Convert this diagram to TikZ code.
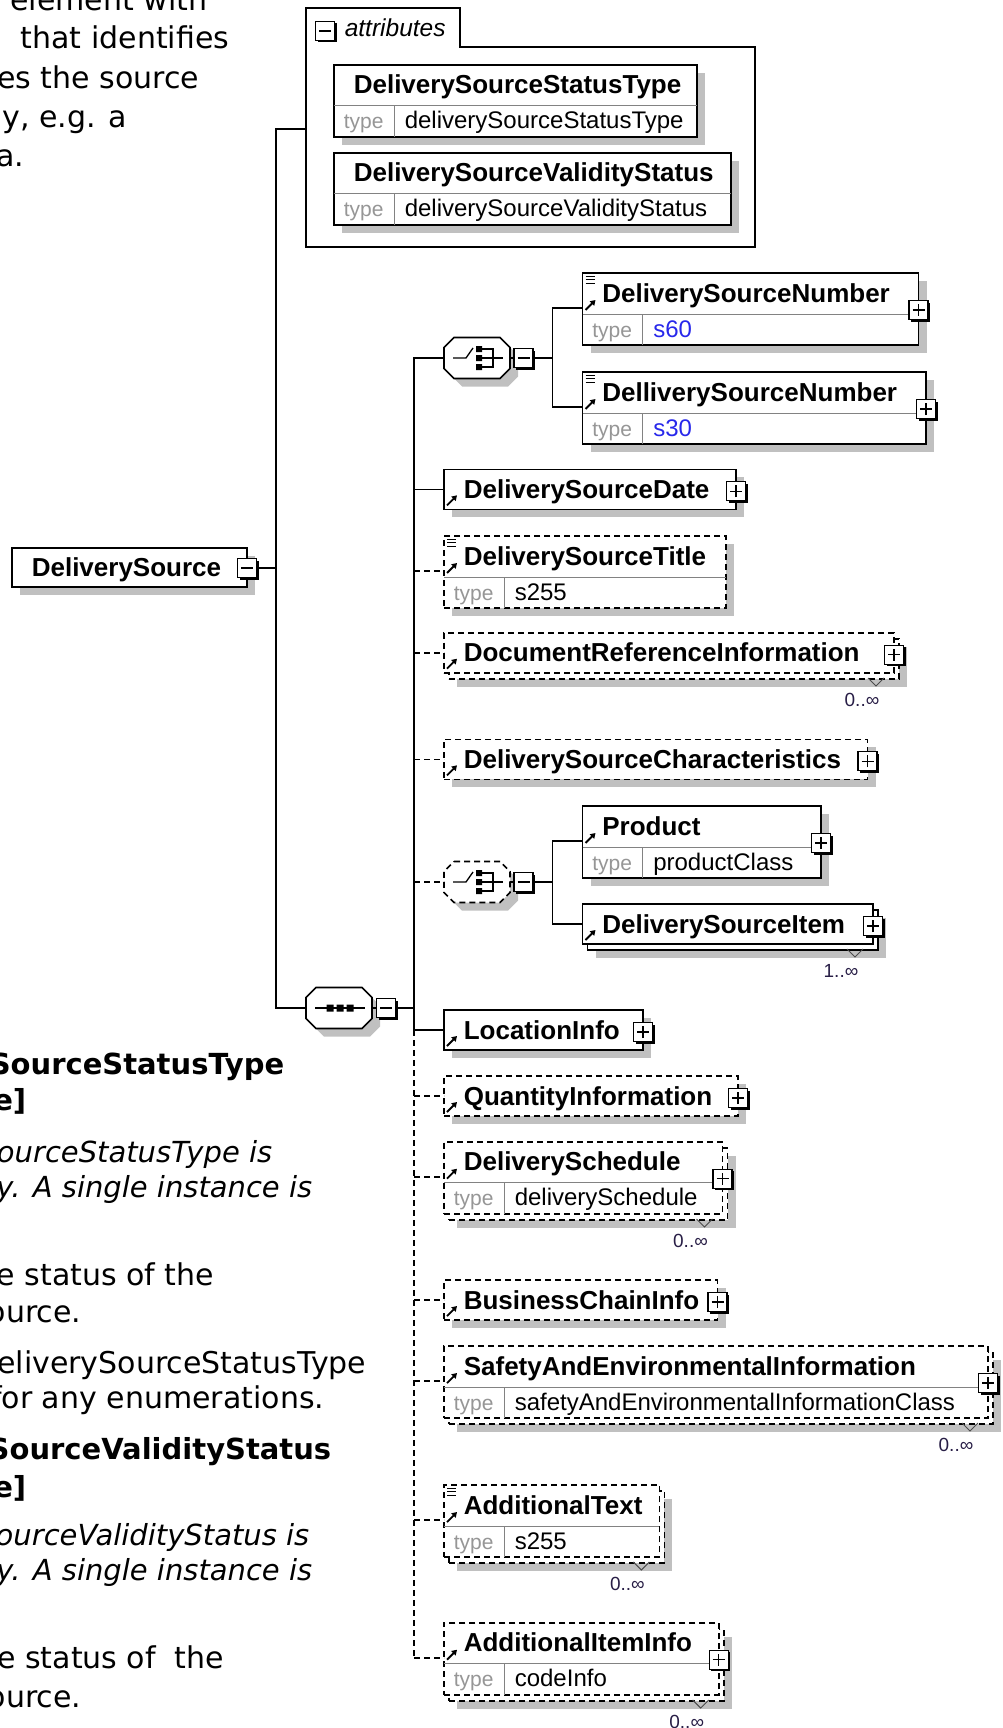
\documentclass[tikz,border=0pt]{standalone}
\usepackage{fontspec}
\setmainfont{Liberation Sans}
\newfontfamily\docfont{DejaVu Sans}
\usepackage{tikz}
\usetikzlibrary{arrows.meta,positioning,shadows,calc}

\definecolor{shadowgray}{RGB}{192,192,192}
\definecolor{typegray}{RGB}{150,150,150}
\definecolor{linegray}{RGB}{130,130,130}
\definecolor{valblue}{RGB}{40,40,235}
\definecolor{cardtext}{RGB}{40,30,70}

\newcommand{\elbox}[5][elem]{%
  \node[#1,minimum width=#4pt,minimum height=40pt,anchor=north west] (#2) at (#3) {};
  \node[ename,anchor=base west] (#2-t) at ([xshift=19pt,yshift=-29pt]#2.north west) {#5};
  \coordinate (#2-in) at (#2.west);}
\newcommand{\tybox}[6][elem]{%
  \node[#1,minimum width=#4pt,minimum height=72pt,anchor=north west] (#2) at (#3) {};
  \draw[divline] ([yshift=-41pt]#2.north west) -- ([yshift=-41pt]#2.north east)
    ([xshift=60pt,yshift=-41pt]#2.north west) -- ([xshift=60pt]#2.south west);
  \node[ename,anchor=base west] (#2-t) at ([xshift=19pt,yshift=-29pt]#2.north west) {#5};
  \node[tlabel,anchor=base west] (#2-l) at ([xshift=9pt,yshift=8pt]#2.south west) {type};
  \node[tval,anchor=base west] (#2-v) at ([xshift=70pt,yshift=8pt]#2.south west) {#6};
  \coordinate (#2-in) at ([yshift=-35pt]#2.north west);}
\newcommand{\octa}[2][]{%
  \filldraw[fill=white,shad,#1] ([xshift=10pt]#2.north west) -- ([xshift=-10pt]#2.north east)
    -- ([yshift=-10pt]#2.north east) -- ([yshift=10pt]#2.south east) -- ([xshift=-10pt]#2.south east)
    -- ([xshift=10pt]#2.south west) -- ([yshift=10pt]#2.south west) -- ([yshift=-10pt]#2.north west) -- cycle;}
\newcommand{\choicesym}[1]{%
  \draw[line width=1.3pt] ([xshift=-24pt]#1.center) -- ([xshift=-11pt]#1.center) -- ([xshift=-4pt,yshift=10pt]#1.center);
  \draw[line width=1.3pt] ([xshift=5pt,yshift=9pt]#1.center) -- ([xshift=16pt,yshift=9pt]#1.center) -- ([xshift=16pt,yshift=-9pt]#1.center) -- ([xshift=5pt,yshift=-9pt]#1.center)
    ([xshift=5pt]#1.center) -- ([xshift=26pt]#1.center);
  \fill ([xshift=-1pt,yshift=12pt]#1.center) rectangle ([xshift=5pt,yshift=6pt]#1.center)
    ([xshift=-1pt,yshift=3pt]#1.center) rectangle ([xshift=5pt,yshift=-3pt]#1.center)
    ([xshift=-1pt,yshift=-6pt]#1.center) rectangle ([xshift=5pt,yshift=-12pt]#1.center);}
\newcommand{\seqsym}[1]{%
  \draw[line width=1.3pt] ([xshift=-24pt]#1.center) -- ([xshift=26pt]#1.center);
  \fill ([xshift=-12.5pt,yshift=3.5pt]#1.center) rectangle ([xshift=-5.5pt,yshift=-3.5pt]#1.center)
    ([xshift=-2.5pt,yshift=3.5pt]#1.center) rectangle ([xshift=4.5pt,yshift=-3.5pt]#1.center)
    ([xshift=7.5pt,yshift=3.5pt]#1.center) rectangle ([xshift=14.5pt,yshift=-3.5pt]#1.center);}

\begin{document}
\begin{tikzpicture}[x=1pt,y=-1pt,line width=1.6pt,
  box/.style={draw,fill=white,outer sep=0pt,inner sep=0pt},
  shad/.style={drop shadow={shadow xshift=8pt,shadow yshift=-8pt,fill=shadowgray,opacity=1}},
  elem/.style={box,shad},
  opt/.style={dash pattern=on 6pt off 4pt},
  ename/.style={font=\fontsize{26}{30}\selectfont\bfseries,inner sep=0pt},
  tlabel/.style={font=\fontsize{21}{24}\selectfont,text=typegray,inner sep=0pt},
  tval/.style={font=\fontsize{24}{28}\selectfont,inner sep=0pt},
  atitle/.style={font=\fontsize{24.5}{28}\selectfont\itshape,anchor=base west,inner sep=0pt},
  divline/.style={draw=linegray,line width=1pt},
  refarrow/.style={-{Triangle[length=5pt,width=6pt]},line width=1.8pt},
  pmb/.style={draw,fill=white,line width=1.3pt,minimum size=19pt,inner sep=0pt,outer sep=0pt,
    drop shadow={shadow xshift=2pt,shadow yshift=-2pt,fill=black,opacity=1}},
  pbox/.style={pmb,path picture={\draw[line width=1.3pt]
    ([xshift=-6pt]path picture bounding box.center) -- ([xshift=6pt]path picture bounding box.center)
    ([yshift=-6pt]path picture bounding box.center) -- ([yshift=6pt]path picture bounding box.center);}},
  mbox/.style={pmb,path picture={\draw[line width=1.3pt]
    ([xshift=-6pt]path picture bounding box.center) -- ([xshift=6pt]path picture bounding box.center);}},
  comp/.style={minimum width=66pt,minimum height=41pt,inner sep=0pt,outer sep=0pt},
  card/.style={font=\fontsize{19}{22}\selectfont,text=cardtext,inner sep=0pt,anchor=base},
  cardv/.style={line width=1pt,draw=black!70},
  doc/.style={font=\docfont\fontsize{30}{36}\selectfont,inner sep=0pt,anchor=base east},
  docb/.style={doc,font=\docfont\fontsize{29}{36}\selectfont\bfseries},
  doci/.style={doc,font=\docfont\fontsize{29}{36}\selectfont\itshape}]
\useasboundingbox (0,0) rectangle (1003,1728);

\node[doc] (d1) at (208,11) {element with};
\node[doc] (d2) at (230,49) {that identifies};
\node[doc] (d3) at (200,89) {es the source};
\node[doc] (d4) at (128,128) {y, e.g. a};
\node[doc] (d5) at (25,167) {a.};
\node[docb] (d6) at (285,1074) {SourceStatusType};
\node[docb] (d7) at (27,1110) {e]};
\node[doci] (d8) at (273,1162) {ourceStatusType is};
\node[doci] (d9) at (313,1197) {y. A single instance is};
\node[doc] (d10) at (215,1285) {e status of the};
\node[doc] (d11) at (82,1322) {ource.};
\node[doc] (d12) at (367,1373) {eliverySourceStatusType};
\node[doc] (d13) at (325,1408) {for any enumerations.};
\node[docb] (d14) at (332,1459) {SourceValidityStatus};
\node[docb] (d15) at (27,1497) {e]};
\node[doci] (d16) at (310,1545) {ourceValidityStatus is};
\node[doci] (d17) at (313,1580) {y. A single instance is};
\node[doc] (d18) at (225,1668) {e status of\ \ the};
\node[doc] (d19) at (82,1707) {ource.};

\node[elem,minimum width=235pt,minimum height=39pt,anchor=north west] (root) at (12,548) {};
\node[ename,anchor=base west] (root-t) at ([xshift=19pt,yshift=-28pt]root.north west) {DeliverySource};
\node[mbox] (root-pm) at (247,568) {};
\coordinate (j1) at (276,568);

\draw[line width=1.4pt] (306,247) -- (306,8) -- (460,8) -- (460,47) -- (755,47) -- (755,247) -- cycle;
\node[mbox] (attr-pm) at (325,31) {};
\node[atitle] (attr-t) at (344,37) {attributes};
\coordinate (attr-in) at (306,129);
\tybox{attr1}{334,65}{363}{DeliverySourceStatusType}{deliverySourceStatusType}
\tybox{attr2}{334,153}{397}{DeliverySourceValidityStatus}{deliverySourceValidityStatus}

\node[comp] (seq) at (339,1008) {};
\octa{seq}
\seqsym{seq}
\node[mbox] (seq-pm) at (386,1008) {};
\coordinate (j2) at (414,1008);

\node[comp] (ch1) at (477,358) {};
\octa{ch1}
\choicesym{ch1}
\node[mbox] (ch1-pm) at (523.5,358) {};
\coordinate (b1) at (552.5,358);
\tybox{dsn1}{582.5,273}{336}{DeliverySourceNumber}{\textcolor{valblue}{s60}}
\tybox{dsn2}{582.5,372}{343.5}{DelliverySourceNumber}{\textcolor{valblue}{s30}}

\elbox{date}{444,469.3}{292}{DeliverySourceDate}
\tybox[elem,opt]{title}{444,536}{282}{DeliverySourceTitle}{s255}
\node[elem,opt,minimum width=450pt,minimum height=40pt,anchor=north west] (docref-b) at (449,639) {};
\elbox[box,opt]{docref}{444,632.7}{450}{DocumentReferenceInformation}
\elbox[elem,opt]{char}{444,739.3}{423.5}{DeliverySourceCharacteristics}

\node[comp] (ch2) at (477,882) {};
\octa[opt]{ch2}
\choicesym{ch2}
\node[mbox] (ch2-pm) at (523.5,882) {};
\coordinate (b2) at (552.5,882);
\tybox{product}{582.5,806}{238.5}{Product}{productClass}
\node[elem,minimum width=290.5pt,minimum height=40pt,anchor=north west] (dsi-b) at (587.5,910) {};
\elbox[box]{dsi}{582.5,904}{290.5}{DeliverySourceItem}

\elbox{loc}{444,1010}{199}{LocationInfo}
\elbox[elem,opt]{qty}{444,1076}{294}{QuantityInformation}
\node[elem,opt,minimum width=278.5pt,minimum height=72pt,anchor=north west] (sched-b) at (449,1148) {};
\tybox[box,opt]{sched}{444,1141.7}{278.5}{DeliverySchedule}{deliverySchedule}
\elbox[elem,opt]{bci}{444,1280}{273.5}{BusinessChainInfo}
\node[elem,opt,minimum width=544pt,minimum height=72pt,anchor=north west] (safe-b) at (449,1352) {};
\tybox[box,opt]{safe}{444,1346}{544}{SafetyAndEnvironmentalInformation}{safetyAndEnvironmentalInformationClass}
\node[elem,opt,minimum width=215.4pt,minimum height=72pt,anchor=north west] (atext-b) at (449,1491) {};
\tybox[box,opt]{atext}{444,1485}{215.4}{AdditionalText}{s255}
\node[elem,opt,minimum width=274.7pt,minimum height=72pt,anchor=north west] (aii-b) at (449,1629) {};
\tybox[box,opt]{aii}{444,1622.7}{274.7}{AdditionalItemInfo}{codeInfo}

\draw (root-pm) -- (j1);
\draw (attr-in) -- (attr-in -| j1) -- (j1 |- seq.west) -- (seq.west);
\draw (seq) -- (seq-pm);
\draw (seq-pm) -- (j2);
\draw (ch1.west) -- (ch1.west -| j2) -- (j2 |- loc-in);
\draw[opt] (j2 |- loc-in) -- (j2 |- aii-in);
\foreach \n in {date,loc} \draw (j2 |- \n-in) -- (\n-in);
\foreach \n in {title,docref,char,qty,sched,bci,safe,atext,aii} \draw[opt] (j2 |- \n-in) -- (\n-in);
\draw[opt] (j2 |- ch2.west) -- (ch2.west);
\draw (ch1) -- (ch1-pm);
\draw (ch1-pm) -- (b1);
\draw (dsn1-in) -- (dsn1-in -| b1) -- (dsn2-in -| b1) -- (dsn2-in);
\draw (ch2) -- (ch2-pm);
\draw (ch2-pm) -- (b2);
\draw (product-in) -- (product-in -| b2) -- (dsi-in -| b2) -- (dsi-in);

\foreach \n in {dsn1,dsn2,date,docref,char,product,dsi,loc,qty,sched,bci,safe,aii}
  \node[pbox] (\n-pm) at ($(\n.east |- \n-in)+(0,2)$) {};
\foreach \n in {date,docref,char,dsi,loc,qty,bci}
  \draw[refarrow] ([xshift=3pt,yshift=4pt]\n.south west) -- ++(10pt,10pt);
\foreach \n in {dsn1,dsn2,title,product,sched,safe,atext,aii}
  \draw[refarrow] ([xshift=3pt,yshift=-37pt]\n.north west) -- ++(10pt,10pt);
\foreach \n in {dsn1,dsn2,title,atext}
  \draw[line width=1pt] ([xshift=3pt,yshift=-3pt]\n.north west) -- ++(9pt,0pt)
    ([xshift=3pt,yshift=-6.5pt]\n.north west) -- ++(9pt,0pt)
    ([xshift=3pt,yshift=-10pt]\n.north west) -- ++(9pt,0pt);
\foreach \n/\c in {docref/0,dsi/1,sched/0,safe/0,atext/0,aii/0}{
  \draw[cardv] ($(\n-b.south east)+(-31,-1)$) -- ($(\n-b.south east)+(-23,7)$) -- ($(\n-b.south east)+(-15,-1)$);
  \node[card] (\n-c) at ($(\n-b.south east)+(-37,27)$) {\c..∞};
}
\end{tikzpicture}
\end{document}
